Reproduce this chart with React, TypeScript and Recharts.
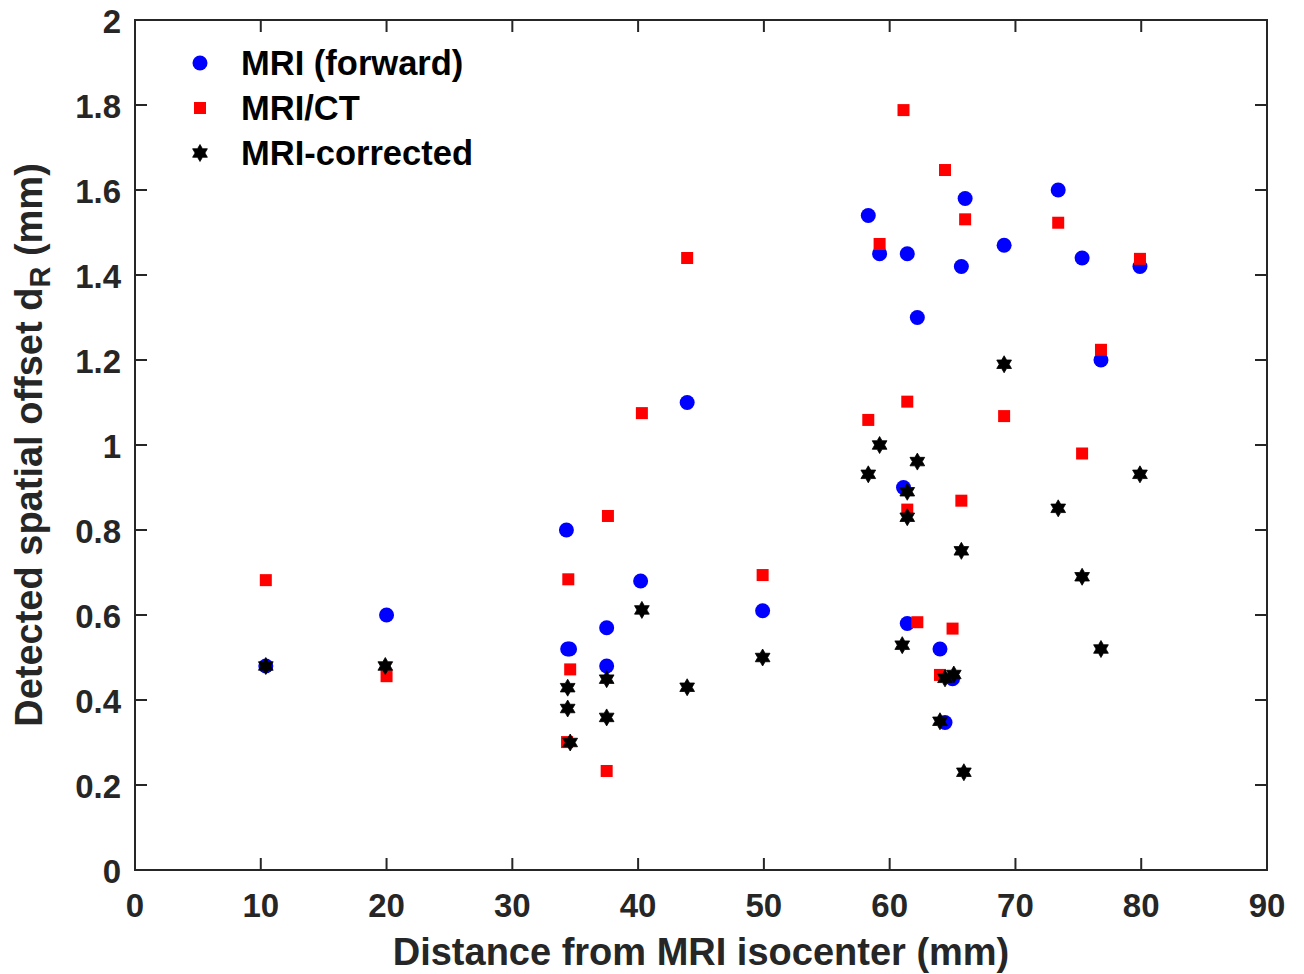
import React from "react";
import {
    ScatterChart,
    Scatter,
    XAxis,
    YAxis,
    ReferenceArea,
    Legend,
} from "recharts";

// distance from isocenter (mm) and detected offset (mm)
const forwardX = [10.4, 20.0, 34.4, 34.55, 37.5, 37.5, 40.2, 43.9, 49.9, 58.3, 59.2, 61.4, 61.1, 62.2, 61.4, 64.0, 64.4, 65.0, 66.0, 65.7, 69.1, 73.4, 75.3, 76.8, 79.9, 34.3];
const forwardY = [0.48, 0.6, 0.52, 0.52, 0.57, 0.48, 0.68, 1.1, 0.61, 1.54, 1.45, 1.45, 0.9, 1.3, 0.58, 0.52, 0.347, 0.45, 1.58, 1.42, 1.47, 1.6, 1.44, 1.2, 1.42, 0.8];

const ctX = [10.4, 20.0, 34.35, 34.6, 34.45, 37.6, 37.5, 40.3, 43.9, 49.9, 61.1, 64.4, 66.0, 73.4, 59.2, 79.9, 76.8, 61.4, 58.3, 69.1, 75.3, 65.7, 61.4, 62.2, 65.0, 64.0];
const ctY = [0.682, 0.456, 0.301, 0.472, 0.684, 0.833, 0.233, 1.075, 1.44, 0.694, 1.788, 1.647, 1.531, 1.523, 1.473, 1.438, 1.224, 1.102, 1.059, 1.068, 0.98, 0.869, 0.848, 0.583, 0.568, 0.459];

const corrX = [10.4, 19.9, 34.4, 34.4, 34.6, 37.5, 37.5, 40.3, 43.9, 49.9, 69.1, 59.2, 58.3, 62.2, 79.9, 61.4, 61.4, 73.4, 65.7, 75.3, 61.0, 76.8, 64.4, 65.1, 64.0, 65.9];
const corrY = [0.48, 0.48, 0.429, 0.38, 0.3, 0.449, 0.359, 0.612, 0.43, 0.5, 1.19, 1.0, 0.931, 0.961, 0.931, 0.89, 0.83, 0.851, 0.751, 0.69, 0.529, 0.52, 0.451, 0.46, 0.35, 0.23];

const xTicks = [0, 10, 20, 30, 40, 50, 60, 70, 80, 90];
const yTicks = [0, 0.2, 0.4, 0.6, 0.8, 1, 1.2, 1.4, 1.6, 1.8, 2];

const W = 1304;
const H = 974;
const PLOT_LEFT = 135;
const PLOT_RIGHT = 1267;
const PLOT_TOP = 20;
const PLOT_BOTTOM = 870;
const AXIS = "#262626";
const FONT = "'Liberation Sans', Arial, Helvetica, sans-serif";

const toPoints = (xs: number[], ys: number[]) => xs.map((x, i) => ({ x, y: ys[i] }));

const starPath = (cx: number, cy: number, R: number) => {
    const r = R / Math.sqrt(3);
    let d = "";
    for (let k = 0; k < 12; k++) {
        const a = ((-90 + k * 30) * Math.PI) / 180;
        const rad = k % 2 === 0 ? R : r;
        d += (k === 0 ? "M" : "L") + (cx + rad * Math.cos(a)).toFixed(2) + "," + (cy + rad * Math.sin(a)).toFixed(2);
    }
    return d + "Z";
};

const Circle = (p: any) => <circle cx={p.cx} cy={p.cy} r={7.5} fill="#0000ff" />;
const Square = (p: any) => <rect x={p.cx - 6} y={p.cy - 6} width={12} height={12} fill="#ff0000" />;
const Star = (p: any) => <path d={starPath(p.cx, p.cy, 8.5)} fill="#000000" stroke="#000000" strokeWidth={0.8} />;

const XTick = (props: any) => {
    const { x, y, payload } = props;
    return (
        <g>
            <line x1={x} x2={x} y1={y} y2={y - 12} stroke={AXIS} strokeWidth={2} />
            <line x1={x} x2={x} y1={PLOT_TOP} y2={PLOT_TOP + 12} stroke={AXIS} strokeWidth={2} />
            <text x={x} y={y + 47} textAnchor="middle" fontFamily={FONT} fontWeight="bold" fontSize={33} fill={AXIS}>
                {payload.value}
            </text>
        </g>
    );
};

const YTick = (props: any) => {
    const { x, y, payload } = props;
    return (
        <g>
            <line x1={x} x2={x + 12} y1={y} y2={y} stroke={AXIS} strokeWidth={2} />
            <line x1={PLOT_RIGHT} x2={PLOT_RIGHT - 12} y1={y} y2={y} stroke={AXIS} strokeWidth={2} />
            <text x={x - 14} y={y + 13} textAnchor="end" fontFamily={FONT} fontWeight="bold" fontSize={33} fill={AXIS}>
                {payload.value}
            </text>
        </g>
    );
};

const XTitle = (props: any) => {
    const vb = props.viewBox;
    return (
        <text x={vb.x + vb.width / 2} y={vb.y + 95} textAnchor="middle" fontFamily={FONT} fontWeight="bold" fontSize={38} fill={AXIS}>
            Distance from MRI isocenter (mm)
        </text>
    );
};

const YTitle = (props: any) => {
    const vb = props.viewBox;
    const cx = 42;
    const cy = vb.y + vb.height / 2;
    return (
        <text x={cx} y={cy} transform={`rotate(-90, ${cx}, ${cy})`} textAnchor="middle" fontFamily={FONT} fontWeight="bold" fontSize={38} fill={AXIS}>
            Detected spatial offset d
            <tspan fontSize={29} dy={8}>R</tspan>
            <tspan dy={-8}> (mm)</tspan>
        </text>
    );
};

const legendItems = [
    { label: "MRI (forward)", kind: "circle" },
    { label: "MRI/CT", kind: "square" },
    { label: "MRI-corrected", kind: "star" },
];

const LegendBox = () => (
    <svg width={320} height={140} style={{ display: "block" }}>
        {legendItems.map((it, i) => {
            const cy = 23 + i * 45;
            return (
                <g key={it.label}>
                    {it.kind === "circle" && <Circle cx={20} cy={cy} />}
                    {it.kind === "square" && <Square cx={20} cy={cy} />}
                    {it.kind === "star" && <Star cx={20} cy={cy} />}
                    <text x={61} y={cy + 12} fontFamily={FONT} fontWeight="bold" fontSize={34.5} fill="#000">
                        {it.label}
                    </text>
                </g>
            );
        })}
    </svg>
);

export default function App() {
    return (
        <div style={{ position: "absolute", left: 0, top: 0, width: W, height: H, background: "#fff" }}>
            <ScatterChart
                width={W}
                height={H}
                margin={{ top: PLOT_TOP, right: W - PLOT_RIGHT, left: 0, bottom: 0 }}
            >
                <XAxis
                    type="number"
                    dataKey="x"
                    domain={[0, 90]}
                    ticks={xTicks}
                    interval={0}
                    height={H - PLOT_BOTTOM}
                    tickSize={0}
                    tickMargin={0}
                    tickLine={false}
                    axisLine={{ stroke: AXIS, strokeWidth: 2 }}
                    tick={<XTick />}
                    label={<XTitle />}
                />
                <YAxis
                    type="number"
                    dataKey="y"
                    domain={[0, 2]}
                    ticks={yTicks}
                    interval={0}
                    width={PLOT_LEFT}
                    tickSize={0}
                    tickMargin={0}
                    tickLine={false}
                    axisLine={{ stroke: AXIS, strokeWidth: 2 }}
                    tick={<YTick />}
                    label={<YTitle />}
                />
                <ReferenceArea x1={0} x2={90} y1={0} y2={2} fill="none" fillOpacity={0} stroke={AXIS} strokeWidth={2} />
                <Legend
                    layout="horizontal"
                    verticalAlign="middle"
                    align="center"
                    wrapperStyle={{ top: 40, left: 180, width: 320 }}
                    content={() => <LegendBox />}
                />
                <Scatter name="MRI (forward)" data={toPoints(forwardX, forwardY)} shape={Circle} isAnimationActive={false} />
                <Scatter name="MRI/CT" data={toPoints(ctX, ctY)} shape={Square} isAnimationActive={false} />
                <Scatter name="MRI-corrected" data={toPoints(corrX, corrY)} shape={Star} isAnimationActive={false} />
            </ScatterChart>
        </div>
    );
}
